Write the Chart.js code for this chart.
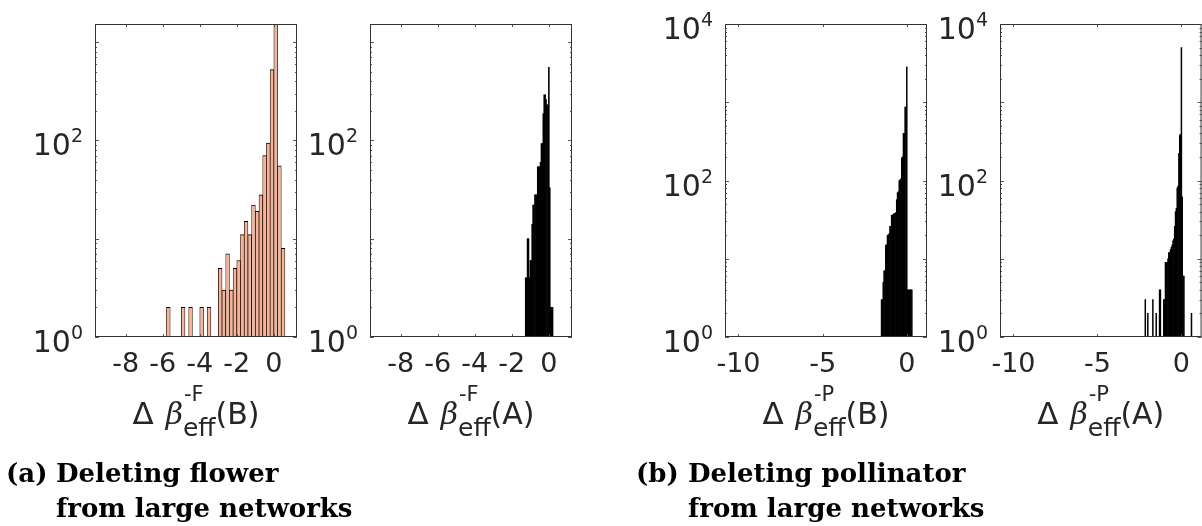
<!DOCTYPE html>
<html>
<head>
<meta charset="utf-8">
<script src="https://cdn.jsdelivr.net/npm/chart.js@4.4.1/dist/chart.umd.min.js"></script>
<style>
  body { margin: 0; background: #fff; }
  #wrap { position: relative; width: 1202px; height: 526px; overflow: hidden; background: #fff; }
  #wrap canvas { position: absolute; left: 0; top: 0; }
  .cap { position: absolute; font-family: "DejaVu Serif", serif; font-weight: bold; font-size: 26px;
         line-height: 35px; color: #000; white-space: nowrap; }
</style>
</head>
<body>
<div id="wrap">
  <canvas id="c1" width="1202" height="526"></canvas>
  <canvas id="c2" width="1202" height="526"></canvas>
  <canvas id="c3" width="1202" height="526"></canvas>
  <canvas id="c4" width="1202" height="526"></canvas>
  <div class="cap" style="left:6px; top:456px">(a)</div>
  <div class="cap" style="left:56px; top:456px">Deleting flower<br>from large networks</div>
  <div class="cap" style="left:636px; top:456px">(b)</div>
  <div class="cap" style="left:688px; top:456px">Deleting pollinator<br>from large networks</div>
</div>
<script>
// histogram bin centres and counts

// (a) deleting a flower, Δβ(B)
const flowerBX = [-5.7, -4.9, -4.5, -3.9, -3.5, -2.9, -2.7, -2.5, -2.3, -2.1, -1.9, -1.7,
                  -1.5, -1.3, -1.1, -0.9, -0.7, -0.5, -0.3, -0.1, 0.1, 0.3, 0.5];
const flowerBY = [2, 2, 2, 2, 2, 5, 3, 7, 3, 5, 6, 11,
                  15, 11, 22, 19, 28, 70, 94, 526, 3000, 55, 8];

// (a) deleting a flower, Δβ(A)
const flowerAX = [-1.25, -1.2, -1.15, -1.1, -1.05, -1.0, -0.95, -0.9, -0.85, -0.8,
                  -0.75, -0.7, -0.65, -0.6, -0.55, -0.5, -0.45, -0.4, -0.35, -0.3,
                  -0.25, -0.2, -0.15, -0.1, -0.05, 0, 0.05, 0.1, 0.15, 0.2];
const flowerAY = [4, 4, 10, 10, 4, 6, 6, 14, 22, 22,
                  28, 28, 28, 54, 54, 54, 60, 93, 93, 187,
                  291, 291, 260, 230, 230, 555, 33, 2, 2, 2];

// (b) deleting a pollinator, Δβ(B)
const pollBX = [-1.5, -1.45, -1.4, -1.35, -1.3, -1.25, -1.2, -1.15, -1.1, -1.05,
                -1.0, -0.95, -0.9, -0.85, -0.8, -0.75, -0.7, -0.65, -0.6, -0.55,
                -0.5, -0.45, -0.4, -0.35, -0.3, -0.25, -0.2, -0.15, -0.1, -0.05,
                0, 0.05, 0.1, 0.15, 0.2, 0.25, 0.3];
const pollBY = [3, 3, 5, 7, 7, 15, 15, 20, 20, 21,
                26, 26, 36, 36, 37, 38, 38, 39, 57, 70,
                72, 100, 102, 105, 195, 200, 400, 400, 870, 870,
                2830, 4, 4, 4, 4, 4, 4];

// (b) deleting a pollinator, Δβ(A)
const pollAX = [-2.15, -2.0, -1.7, -1.5, -1.3, -1.25, -1.05, -1.0, -0.95, -0.9,
                -0.85, -0.8, -0.75, -0.7, -0.65, -0.6, -0.55, -0.5, -0.45, -0.4,
                -0.35, -0.3, -0.25, -0.2, -0.15, -0.1, -0.05, 0, 0.05, 0.1,
                0.15, 0.6];
const pollAY = [3, 2, 3, 2, 4, 4, 3, 3, 9, 9,
                9, 10, 12, 12, 13, 14, 15, 17, 18, 26,
                40, 44, 80, 85, 222, 380, 390, 5000, 62, 6,
                6, 2];

// tick labels
const xTicksA = [-8, -6, -4, -2, 0];
const xTicksB = [-10, -5, 0];
const yLabelsA = [1, 100];
const yLabelsB = [1, 100, 10000];

const INK = '#262626';
const SANS = '"DejaVu Sans", sans-serif';

// box, inner tick marks, y labels with exponents and the axis title
const framePlugin = {
  id: 'frame',
  afterDatasetsDraw(chart, args, opts) {
    const ctx = chart.ctx;
    const a = chart.chartArea;
    const xs = chart.scales.x, ys = chart.scales.y;
    ctx.save();
    ctx.strokeStyle = '#555';
    ctx.lineWidth = 1;
    ctx.beginPath();
    // x ticks, top and bottom
    opts.xTicks.forEach(v => {
      const px = Math.round(xs.getPixelForValue(v)) + 0.5;
      ctx.moveTo(px, a.top); ctx.lineTo(px, a.top + 3);
      ctx.moveTo(px, a.bottom); ctx.lineTo(px, a.bottom - 3);
    });
    // log y ticks, left and right
    const lo = Math.floor(Math.log10(ys.min)), hi = Math.ceil(Math.log10(ys.max));
    for (let k = lo; k <= hi; k++) {
      for (let m = 1; m <= 9; m++) {
        const v = m * Math.pow(10, k);
        if (v < ys.min || v > ys.max) continue;
        const py = Math.round(ys.getPixelForValue(v)) + 0.5;
        const len = m === 1 ? 4 : 2;
        ctx.moveTo(a.left, py); ctx.lineTo(a.left + len, py);
        ctx.moveTo(a.right, py); ctx.lineTo(a.right - len, py);
      }
    }
    ctx.stroke();
    ctx.strokeStyle = '#333';
    ctx.strokeRect(a.left + 0.5, a.top + 0.5, a.right - a.left - 1, a.bottom - a.top - 1);

    // y labels 10^n
    ctx.fillStyle = INK;
    ctx.textBaseline = 'alphabetic';
    ctx.textAlign = 'left';
    opts.yLabels.forEach(v => {
      const py = ys.getPixelForValue(v);
      const e = String(Math.round(Math.log10(v)));
      ctx.font = '19px ' + SANS;
      const ew = ctx.measureText(e).width;
      ctx.font = '30px ' + SANS;
      const bw = ctx.measureText('10').width;
      const right = a.left - 12;
      ctx.fillText('10', right - ew - bw, py + 15);
      ctx.font = '19px ' + SANS;
      ctx.fillText(e, right - ew, py + 2);
    });

    // axis title:  Δ β^{sup}_{eff}(tail)
    const base = 424;
    const mainF = '30px ' + SANS, supF = '21px ' + SANS, subF = '25px ' + SANS;
    const parts = [
      {t: '\u0394', f: '31px ' + SANS, gap: 12},
      {t: '\u03b2', f: 'italic 30px "DejaVu Serif", serif', gap: 0},
    ];
    let w = 0;
    parts.forEach(p => { ctx.font = p.f; p.w = ctx.measureText(p.t).width + p.gap; w += p.w; });
    ctx.font = supF; const supW = ctx.measureText(opts.sup).width;
    ctx.font = subF; const subW = ctx.measureText('eff').width;
    const scW = Math.max(supW, subW);
    ctx.font = mainF; const tailW = ctx.measureText(opts.tail).width;
    w += scW + tailW;
    let x = (a.left + a.right) / 2 - w / 2;
    parts.forEach(p => { ctx.font = p.f; ctx.fillText(p.t, x, base); x += p.w; });
    ctx.font = supF; ctx.fillText(opts.sup, x + 1, base - 23);
    ctx.font = subF; ctx.fillText('eff', x, base + 12);
    x += scW;
    ctx.font = mainF; ctx.fillText(opts.tail, x, base);
    ctx.restore();
  }
};

function makeChart(id, xs, ys, color, box, xRange, xTicks, yMax, yLabels, sup, tail) {
  const points = xs.map((x, i) => ({x: x, y: ys[i]}));
  return new Chart(document.getElementById(id), {
    type: 'bar',
    data: {
      datasets: [{
        data: points,
        backgroundColor: color,
        borderColor: '#000',
        borderWidth: color === '#000' ? 0 : {left: 0.7, right: 0.7, top: 1, bottom: 0},
        barPercentage: 1,
        categoryPercentage: 1,
        clip: 0
      }]
    },
    options: {
      responsive: false,
      animation: false,
      devicePixelRatio: 1,
      layout: {
        padding: {left: box[0], top: box[1], right: 1202 - box[2], bottom: 526 - box[3] - 40}
      },
      plugins: {
        legend: {display: false},
        tooltip: {enabled: false},
        frame: {xTicks: xTicks, yLabels: yLabels, sup: sup, tail: tail}
      },
      scales: {
        x: {
          type: 'linear',
          min: xRange[0],
          max: xRange[1],
          offset: false,
          grid: {display: false, drawTicks: false},
          border: {display: false},
          afterFit: s => { s.height = 40; },
          afterBuildTicks: s => { s.ticks = xTicks.map(v => ({value: v})); },
          ticks: {
            padding: 12,
            color: INK,
            font: {family: 'DejaVu Sans', size: 27},
            maxRotation: 0,
            autoSkip: false,
            callback: v => String(v)
          }
        },
        y: {
          type: 'logarithmic',
          display: false,
          min: 1,
          max: yMax
        }
      }
    },
    plugins: [framePlugin]
  });
}

makeChart('c1', flowerBX, flowerBY, '#f4b49a', [95, 24, 297, 337], [-9.66, 1.25], xTicksA, 1530, yLabelsA, '-F', '(B)');
makeChart('c2', flowerAX, flowerAY, '#000', [370, 24, 572, 337], [-9.66, 1.25], xTicksA, 1530, yLabelsA, '-F', '(A)');
makeChart('c3', pollBX, pollBY, '#000', [725, 24, 927, 337], [-10.8, 1.2], xTicksB, 10000, yLabelsB, '-P', '(B)');
makeChart('c4', pollAX, pollAY, '#000', [1000, 24, 1202, 337], [-10.8, 1.2], xTicksB, 10000, yLabelsB, '-P', '(A)');
</script>
</body>
</html>
